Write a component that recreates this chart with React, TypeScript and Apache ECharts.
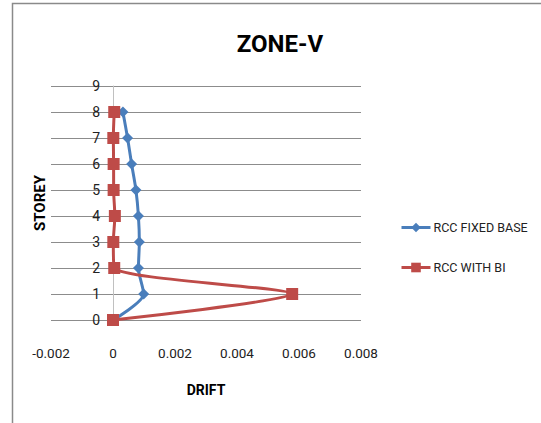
import React, { useEffect, useRef } from "react";
import * as echarts from "echarts";

const storeys = [0, 1, 2, 3, 4, 5, 6, 7, 8];
const fixedBaseDrift = [0, 0.00099, 0.00082, 0.00085, 0.00082, 0.00074, 0.0006, 0.00047, 0.00032];
const withBiDrift = [0, 0.00578, 0.00004, 0.00001, 0.00006, 0.00002, 0.00002, 0.00001, 0.00004];
const seriesNames = ["RCC FIXED BASE", "RCC WITH BI"];
const titleText = "ZONE-V";
const xAxisTitle = "DRIFT";
const yAxisTitle = "STOREY";

const FONT = "Roboto, 'Liberation Sans', sans-serif";

export default function App() {
  const ref = useRef<HTMLDivElement>(null);
  useEffect(() => {
    if (!ref.current) return;
    const chart = echarts.init(ref.current, null, { renderer: "svg" });
    chart.setOption({
      animation: false,
      backgroundColor: "#ffffff",
      title: {
        text: titleText,
        left: 275,
        top: 27,
        textAlign: "center",
        textStyle: { fontFamily: FONT, fontSize: 24, fontWeight: "bold", color: "#000" },
      },
      graphic: [
        {
          type: "rect",
          shape: { x: 12.5, y: 3.5, width: 700, height: 600 },
          style: { fill: "none", stroke: "#8a8a8a", lineWidth: 1.5 },
          silent: true,
        },
        {
          type: "text",
          x: 40,
          y: 203,
          rotation: Math.PI / 2,
          style: {
            text: yAxisTitle,
            fontFamily: FONT,
            fontSize: 15,
            fontWeight: "bold",
            fill: "#000",
            align: "center",
            verticalAlign: "middle",
          },
          silent: true,
        },
      ],
      legend: {
        orient: "vertical",
        left: 400,
        top: 221,
        padding: 0,
        itemWidth: 29,
        itemHeight: 12,
        itemGap: 27,
        lineStyle: { width: 3 },
        textStyle: { fontFamily: FONT, fontSize: 12.5, color: "#222", padding: [0, 0, 0, -2] },
        data: seriesNames,
      },
      grid: { left: 51, right: 180, top: 86, bottom: 103, outerBoundsMode: "none", containLabel: false },
      xAxis: {
        type: "value",
        min: -0.002,
        max: 0.008,
        interval: 0.002,
        name: xAxisTitle,
        nameLocation: "middle",
        nameGap: 63,
        nameTextStyle: { fontFamily: FONT, fontSize: 14, fontWeight: "bold", color: "#000" },
        axisLine: { show: false },
        axisTick: { show: false },
        splitLine: { show: false },
        axisLabel: {
          fontFamily: FONT,
          fontSize: 13.5,
          color: "#222",
          margin: 26,
          formatter: (v: number) => (Math.abs(v) < 1e-12 ? "0" : String(+v.toFixed(3))),
        },
      },
      yAxis: {
        type: "value",
        min: 0,
        max: 9,
        interval: 1,
        axisLine: { show: true, onZero: true, lineStyle: { color: "#c0c0c0", width: 1 } },
        axisTick: { show: false },
        splitLine: { show: true, lineStyle: { color: "#8c8c8c", width: 1 } },
        axisLabel: { fontFamily: FONT, fontSize: 14, color: "#222", margin: -49 },
      },
      series: [
        {
          name: seriesNames[0],
          type: "line",
          data: storeys.map((s, i) => [fixedBaseDrift[i], s]),
          smooth: 0.25,
          symbol: "diamond",
          symbolSize: 11,
          lineStyle: { color: "#4a7ebb", width: 3 },
          itemStyle: { color: "#4a7ebb" },
          z: 2,
        },
        {
          name: seriesNames[1],
          type: "line",
          data: storeys.map((s, i) => [withBiDrift[i], s]),
          smooth: 0.25,
          symbol: "rect",
          symbolSize: 12,
          lineStyle: { color: "#be4b48", width: 3 },
          itemStyle: { color: "#be4b48" },
          z: 3,
        },
      ],
    });
    return () => chart.dispose();
  }, []);
  return (
    <div
      ref={ref}
      style={{ position: "fixed", left: 0, top: 0, width: 541, height: 423 }}
    />
  );
}
